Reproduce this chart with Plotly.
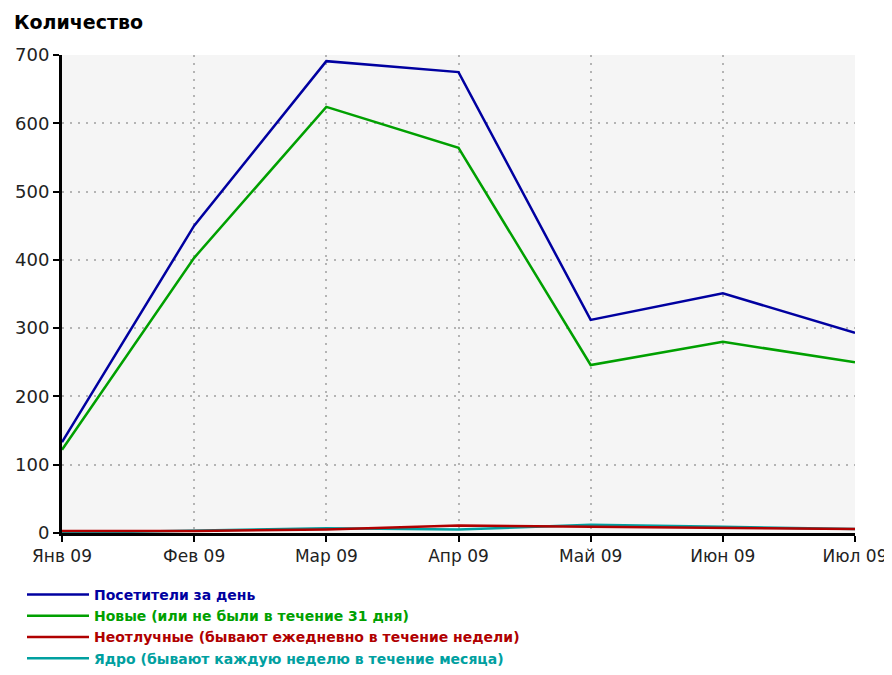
import plotly.graph_objects as go

months = ["Янв 09", "Фев 09", "Мар 09", "Апр 09", "Май 09", "Июн 09", "Июл 09"]
visitors = [133, 450, 691, 675, 312, 351, 293]
new_visitors = [122, 403, 624, 564, 246, 280, 250]
constant = [3, 3, 5, 11, 9, 8, 6]
core = [0, 3, 7, 5, 12, 9, 6]

series = [
    ("Ядро (бывают каждую неделю в течение месяца)", core, "#00a0a0", 4),
    ("Неотлучные (бывают ежедневно в течение недели)", constant, "#b00000", 3),
    ("Новые (или не были в течение 31 дня)", new_visitors, "#00a000", 2),
    ("Посетители за день", visitors, "#0000a0", 1),
]

fig = go.Figure()
for name, vals, color, rank in series:
    fig.add_trace(go.Scatter(
        x=months, y=vals, mode="lines",
        line=dict(color=color, width=2.5),
        name=f"<span style='color:{color}'>{name}</span>",
        legendrank=rank,
    ))

# the page body has an 8px margin; figure coords = window coords - 8
OFF = 8
W, H = 892 - OFF, 675 - 2 * OFF
L, T = 62 - OFF, 55 - OFF
R = W - (855 - OFF)
B = H - (533 - OFF)
PW, PH = W - L - R, H - T - B

fig.update_layout(
    width=W, height=H,
    margin=dict(l=L, r=R, t=T, b=B, autoexpand=False),
    paper_bgcolor="white",
    plot_bgcolor="#f5f5f5",
    font=dict(family="DejaVu Sans, Verdana, sans-serif", size=18, color="#222222"),
    showlegend=True,
    legend=dict(
        x=(22 - OFF) / W, y=1 - (579 - OFF) / H, xref="container", yref="container",
        xanchor="left", yanchor="top",
        font=dict(family="DejaVu Sans, sans-serif", size=14, weight="bold"),
        bgcolor="rgba(0,0,0,0)",
        tracegroupgap=0,
        itemwidth=62,
    ),
    annotations=[dict(
        text="<b>Количество</b>", xref="paper", yref="paper",
        x=-(L - (12 - OFF)) / PW, y=1 + (T - (22 - OFF)) / PH,
        xanchor="left", yanchor="middle",
        showarrow=False,
        font=dict(family="DejaVu Sans, sans-serif", size=19, color="black"),
    )],
)

grid = dict(showgrid=True, gridcolor="#b4b4b4", griddash="2px,6px", gridwidth=1.5)
fig.update_xaxes(
    type="category", range=[0, 6],
    showline=True, linecolor="black", linewidth=3,
    ticks="outside", ticklen=6, tickwidth=2, tickcolor="black",
    tickfont=dict(size=17),
    zeroline=False, automargin=False, **grid,
)
fig.update_yaxes(
    range=[0, 700], dtick=100,
    showline=True, linecolor="black", linewidth=3,
    ticks="outside", ticklen=6, tickwidth=2, tickcolor="black",
    zeroline=False, automargin=False, **grid,
)

fig.write_html("out.html")
